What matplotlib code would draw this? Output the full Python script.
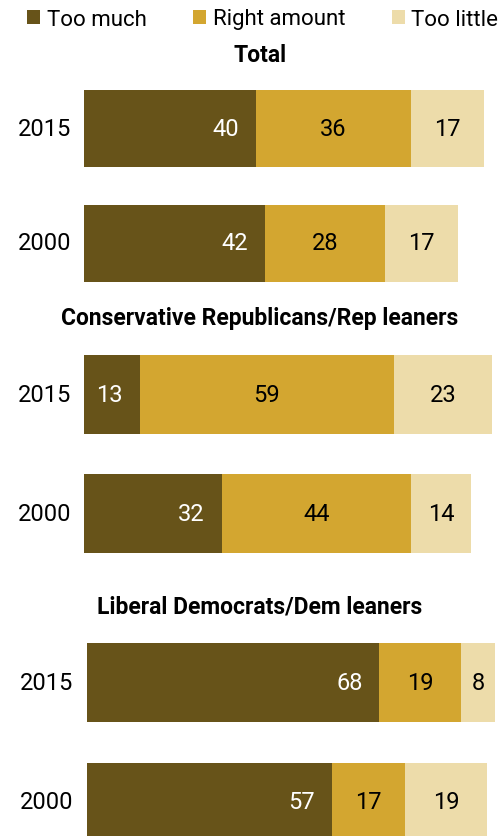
import matplotlib

matplotlib.use("Agg")
import matplotlib.pyplot as plt
import numpy as np
from matplotlib.patches import Patch

plt.rcParams["font.family"] = ["Roboto", "DejaVu Sans"]

years = ["2015", "2000"]
series = ["Too much", "Right amount", "Too little"]
colors = ["#675319", "#D3A630", "#EDDCAA"]

panel_titles = ["Total", "Conservative Republicans/Rep leaners", "Liberal Democrats/Dem leaners"]
too_much = [[40, 42], [13, 32], [68, 57]]
right_amount = [[36, 28], [59, 44], [19, 17]]
too_little = [[17, 17], [23, 14], [8, 19]]

W, H = 500, 837
PX = 4.3  # pixels per percentage point
FS = 17

fig = plt.figure(figsize=(W / 100, H / 100), dpi=100)


def fx(px):
    return px / W


def fy(py):
    return 1 - py / H


# panel layout in pixels: left edge, first bar centre, row spacing, bar thickness, title y
panels = [
    (84, 129, 115, 77, 55),
    (84, 395.5, 119, 79, 319),
    (87, 683.5, 119.5, 79, 607),
]

for i, (left, c0, step, thick, ty) in enumerate(panels):
    top = c0 - step / 2
    ax = fig.add_axes([fx(left), fy(top + 2 * step), fx(W - left), 2 * step / H])
    ax.set_xlim(0, (W - left) / PX)
    ax.set_ylim(1.5, -0.5)
    ax.axis("off")

    y = np.arange(len(years))
    vals = [np.array(too_much[i]), np.array(right_amount[i]), np.array(too_little[i])]
    start = np.zeros(len(years))
    for k, v in enumerate(vals):
        ax.barh(y, v, left=start, height=thick / step, color=colors[k], linewidth=0)
        for j in range(len(years)):
            if k == 0:
                ax.text(start[j] + v[j] - 17 / PX, y[j], str(v[j]), color="white",
                        fontsize=FS, ha="right", va="center")
            else:
                ax.text(start[j] + v[j] / 2, y[j], str(v[j]), color="black",
                        fontsize=FS, ha="center", va="center")
        start = start + v

    for j, yr in enumerate(years):
        ax.text(-13 / PX if i < 2 else -14 / PX, y[j], yr, fontsize=FS, ha="right", va="center",
                clip_on=False)

    fig.text(fx(260), fy(ty), panel_titles[i], fontsize=16.5, fontweight="bold",
             ha="center", va="center")

handles = [Patch(facecolor=c, edgecolor="none") for c in colors]
fig.legend(handles, series, loc="center left", bbox_to_anchor=(fx(27), fy(20)),
           ncol=3, frameon=False, fontsize=16, handlelength=0.6, handleheight=0.6,
           handletextpad=0.28, columnspacing=2.1, borderpad=0, borderaxespad=0)

fig.savefig("out.png", dpi=100)
